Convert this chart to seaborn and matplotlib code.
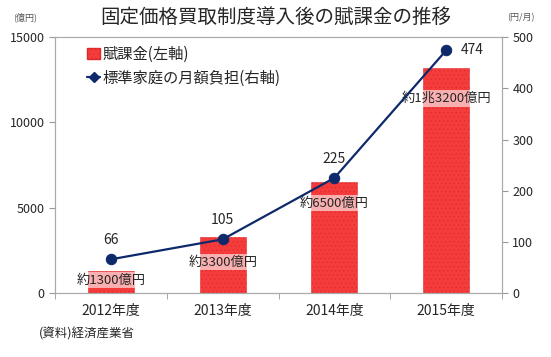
import seaborn as sns
import matplotlib.pyplot as plt
from matplotlib.lines import Line2D
from matplotlib.patches import Patch
import numpy as np

years = ["2012年度", "2013年度", "2014年度", "2015年度"]
levy = [1300, 3300, 6500, 13200]          # 億円 (left axis)
levy_labels = ["約1300億円", "約3300億円", "約6500億円", "約1兆3200億円"]
monthly = [66, 105, 225, 474]             # 円/月 (right axis)

sns.set_style("white")
plt.rcParams['font.family'] = ['Noto Sans CJK JP', 'DejaVu Sans']
plt.rcParams['hatch.color'] = "#c82020"
plt.rcParams['hatch.linewidth'] = 0.4

fig = plt.figure(figsize=(5.51, 3.57), dpi=100)
ax = fig.add_axes([0.1, 0.179, 0.811, 0.717])

sns.barplot(x=years, y=levy, ax=ax, color="#f43c3c", width=0.41,
            saturation=1, edgecolor="#e02a2a", linewidth=0.4, hatch="....")

ax.set_ylim(0, 15000)
ax.set_xlim(-0.5, 3.5)
ax.set_yticks([0, 5000, 10000, 15000])
ax.tick_params(axis="y", labelsize=9, length=4, direction="out", left=True, color="#999999")
ax.tick_params(axis="x", which="major", length=0, labelsize=10, pad=8)
ax.set_xticks(np.arange(-0.5, 4, 1), minor=True)
ax.tick_params(axis="x", which="minor", length=4, direction="out", bottom=True, color="#999999")
ax.set_xlabel("")
ax.set_ylabel("")
for s in ax.spines.values():
    s.set_color("#aaaaaa")
    s.set_linewidth(0.8)

# bar labels (semi-transparent white box -> pink over the bar)
label_y = [760, 1820, 5270, 11400]
for i, (t, yv) in enumerate(zip(levy_labels, label_y)):
    ax.text(i, yv, t, ha="center", va="center", fontsize=9.5, zorder=5,
            bbox=dict(boxstyle="square,pad=0.12", fc="white", ec="none", alpha=0.6))

ax2 = ax.twinx()
sns.lineplot(x=years, y=monthly, ax=ax2, color="#0e2a6b", marker="o",
             markersize=7.5, linewidth=1.6, markeredgecolor="#0e2a6b", sort=False)
ax2.set_ylim(0, 500)
ax2.set_xlim(-0.5, 3.5)
ax2.set_yticks(range(0, 501, 100))
ax2.tick_params(axis="y", labelsize=9, length=4, direction="out", right=True, color="#999999")
ax2.set_ylabel("")
for s in ax2.spines.values():
    s.set_color("#aaaaaa")
    s.set_linewidth(0.8)

for i, v in enumerate(monthly):
    if i == 3:
        ax2.text(i + 0.13, v, str(v), ha="left", va="center", fontsize=10)
    else:
        ax2.text(i, v + 37, str(v), ha="center", va="center", fontsize=10)

handles = [Patch(facecolor="#f43c3c", edgecolor="#e02a2a", hatch="...."),
           Line2D([0], [0], color="#0e2a6b", marker="D", markersize=5, linewidth=1.6)]
ax.legend(handles, ["賦課金(左軸)", "標準家庭の月額負担(右軸)"], loc="upper left",
          bbox_to_anchor=(0.04, 1.02), frameon=False, fontsize=11,
          handlelength=0.9, handletextpad=0.15, labelspacing=0.45)

fig.text(0.5, 0.952, "固定価格買取制度導入後の賦課金の推移", ha="center", va="center", fontsize=14)
fig.text(0.045, 0.95, "(億円)", ha="center", va="center", fontsize=6.5, color="#555555")
fig.text(0.945, 0.95, "(円/月)", ha="center", va="center", fontsize=6.5, color="#555555")
fig.text(0.07, 0.065, "(資料)経済産業省", ha="left", va="center", fontsize=9)

fig.savefig("out.png", dpi=100)
